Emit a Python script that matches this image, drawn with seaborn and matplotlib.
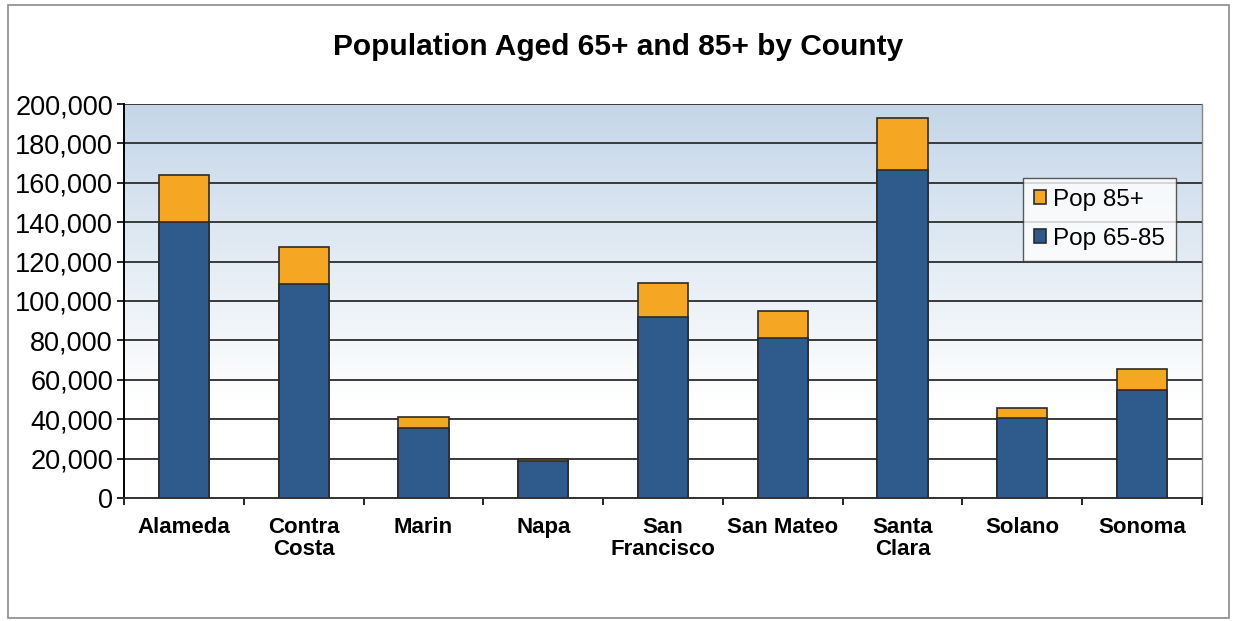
import numpy as np
import matplotlib
matplotlib.use("Agg")
import matplotlib.pyplot as plt
import seaborn as sns
import pandas as pd
from matplotlib.patches import Rectangle
from matplotlib.ticker import FuncFormatter, MultipleLocator

counties = ["Alameda", "Contra\nCosta", "Marin", "Napa", "San\nFrancisco",
            "San Mateo", "Santa\nClara", "Solano", "Sonoma"]
pop_65_85 = [140000, 108500, 35500, 18800, 92000, 81000, 166500, 40500, 55000]
pop_85_plus = [24000, 19000, 5600, 1000, 17000, 14000, 26500, 5200, 10500]

title = "Population Aged 65+ and 85+ by County"
series_labels = ["Pop 85+", "Pop 65-85"]

BLUE = "#2f5a8c"
ORANGE = "#f5a623"
EDGE = "#2b2b2b"

sns.set_theme(style="white")
plt.rcParams["font.family"] = ["Liberation Sans", "DejaVu Sans"]
plt.rcParams["text.color"] = "black"
plt.rcParams["xtick.color"] = "black"
plt.rcParams["ytick.color"] = "black"
plt.rcParams["axes.labelcolor"] = "black"

df = pd.DataFrame({
    "county": counties,
    "p65": pop_65_85,
    "total": np.array(pop_65_85) + np.array(pop_85_plus),
})

fig = plt.figure(figsize=(12.36, 6.21), dpi=100)
ax = fig.add_axes([124 / 1236, 1 - 498 / 621, (1202 - 124) / 1236, (498 - 104) / 621])

# soft blue-to-white gradient behind the plot, fading out in the lower third
t = np.clip(np.linspace(0, 1, 256) / 0.75, 0, 1).reshape(-1, 1)
top = np.array([0.77, 0.84, 0.91])
bottom = np.array([1.0, 1.0, 1.0])
img = top[None, None, :] * (1 - t[:, :, None]) + bottom[None, None, :] * t[:, :, None]
ax.imshow(img, extent=[0, 1, 0, 1], transform=ax.transAxes, aspect="auto", zorder=0)

sns.barplot(data=df, x="county", y="total", color=ORANGE, width=0.42,
            edgecolor=EDGE, linewidth=1.2, saturation=1, ax=ax, zorder=3,
            label=series_labels[0])
sns.barplot(data=df, x="county", y="p65", color=BLUE, width=0.42,
            edgecolor=EDGE, linewidth=1.2, saturation=1, ax=ax, zorder=4,
            label=series_labels[1])

ax.set_ylim(0, 200000)
ax.set_xlim(-0.5, len(counties) - 0.5)
ax.yaxis.set_major_locator(MultipleLocator(20000))
ax.yaxis.set_major_formatter(FuncFormatter(lambda v, p: f"{int(v):,}"))
ax.set_xlabel("")
ax.set_ylabel("")
ax.grid(axis="y", color="#3a3a3a", linewidth=1.4, zorder=1)
ax.set_axisbelow(True)

ax.spines["top"].set_visible(False)
ax.spines["left"].set_color("black")
ax.spines["left"].set_linewidth(1.4)
ax.spines["bottom"].set_color("#333333")
ax.spines["bottom"].set_linewidth(1.4)
ax.spines["right"].set_color("#888888")
ax.spines["right"].set_linewidth(1.0)

ax.tick_params(axis="y", which="major", direction="out", length=5, width=1.2,
               labelsize=19.5, left=True, colors="black", pad=3)
ax.tick_params(axis="x", which="major", length=0, labelsize=16, pad=14,
               colors="black")
for lbl in ax.get_xticklabels():
    lbl.set_fontweight("bold")
    lbl.set_linespacing(1.05)
# small ticks between categories
ax.set_xticks(np.arange(-0.5, len(counties), 1.0), minor=True)
ax.tick_params(axis="x", which="minor", direction="out", length=5, width=1.2,
               bottom=True, color="black")

fig.text(0.5, 1 - 47 / 621, title, ha="center", va="center",
         fontsize=21.5, fontweight="bold", color="black")

handles, labels = ax.get_legend_handles_labels()
leg = ax.legend(handles, labels, loc="upper left",
                bbox_to_anchor=((1023 - 124) / 1078, (498 - 178) / 394),
                frameon=True, fancybox=False, fontsize=17.5, handlelength=0.5,
                handleheight=0.5, handletextpad=0.3, labelspacing=0.7,
                borderpad=0.45, borderaxespad=0)
leg.get_frame().set_edgecolor("#333333")
leg.get_frame().set_linewidth(1.0)
leg.set_zorder(6)

# thin frame round the whole chart
fig.patches.append(Rectangle((8 / 1236, 3 / 621), (1229 - 8) / 1236, (616 - 3) / 621,
                             transform=fig.transFigure, fill=False,
                             edgecolor="#8a8a8a", linewidth=1.2))

fig.savefig("out.png", dpi=100, facecolor="white")
